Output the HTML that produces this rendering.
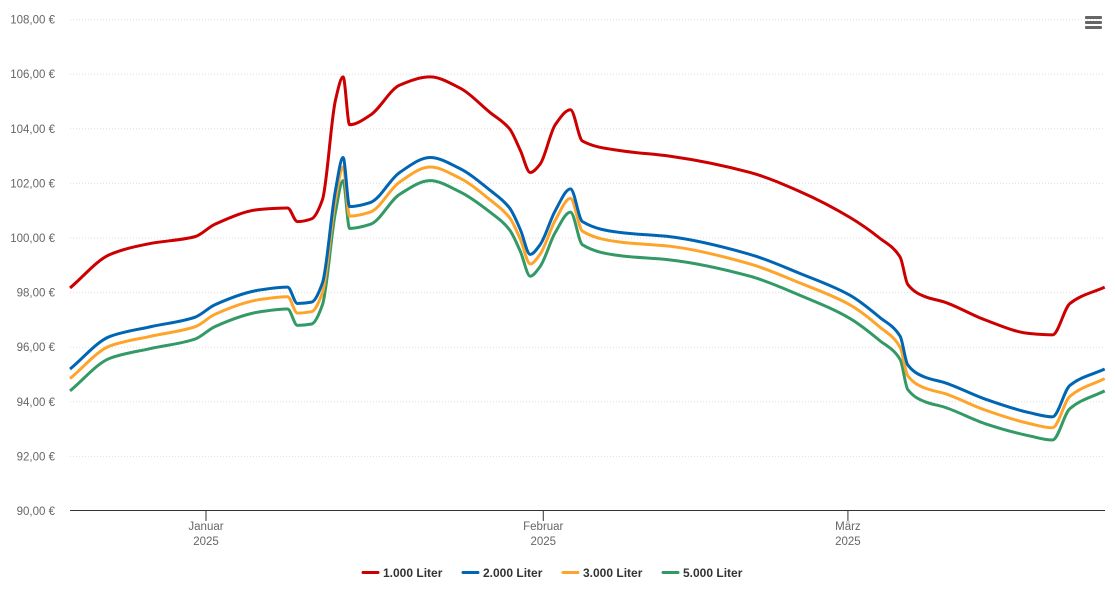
<!DOCTYPE html>
<html><head><meta charset="utf-8"><style>
html,body{margin:0;padding:0;background:#fff;width:1115px;height:608px;overflow:hidden}
svg{font-family:"Liberation Sans",sans-serif}
</style></head><body>
<svg id="chart" width="1115" height="608" xmlns="http://www.w3.org/2000/svg">
<g id="grid"></g>
<g id="yaxis"></g>
<g id="xaxis"></g>
<g id="series"></g>
<g id="legend"></g>
<g>
<rect x="1085" y="16" width="17" height="3" rx="1" fill="#666"/>
<rect x="1085" y="21" width="17" height="3" rx="1" fill="#666"/>
<rect x="1085" y="26" width="17" height="3" rx="1" fill="#666"/>
</g>
</svg>
<script>
const days=[-12.5,-8.8,-5.1,-1,0.8,5,7.5,8.4,9.7,10.7,11.9,12.6,13.2,15.1,17.8,20.6,23.3,26.1,27.9,28.9,29.8,30.7,32.1,33.5,34.6,38.1,42.6,50,54.6,59.2,61.9,63.8,64.5,66.1,67.9,71.6,75.7,77.8,79.4,82.6];
const red=[98.17,99.4,99.8,100.05,100.5,101.05,101.1,100.6,100.7,101.4,105.05,105.9,104.15,104.5,105.6,105.9,105.5,104.6,104.0,103.2,102.4,102.7,104.15,104.7,103.55,103.2,103.0,102.4,101.7,100.75,100.0,99.3,98.3,97.85,97.65,97.0,96.5,96.45,97.6,98.2];
const blue=[95.2,96.4,96.75,97.1,97.55,98.1,98.2,97.6,97.65,98.35,101.75,102.95,101.15,101.3,102.4,102.95,102.55,101.75,101.1,100.3,99.4,99.75,101.0,101.8,100.6,100.2,100.05,99.4,98.7,97.9,97.1,96.4,95.35,94.9,94.7,94.1,93.6,93.45,94.6,95.2];
const orange=[94.85,96.05,96.4,96.75,97.2,97.75,97.85,97.25,97.3,98.0,101.4,102.6,100.8,100.95,102.05,102.6,102.2,101.4,100.75,99.95,99.05,99.4,100.65,101.45,100.25,99.85,99.7,99.05,98.35,97.55,96.75,96.0,94.95,94.5,94.3,93.7,93.2,93.05,94.2,94.85];
const green=[94.4,95.6,95.95,96.3,96.75,97.3,97.4,96.8,96.85,97.55,100.95,102.1,100.35,100.5,101.6,102.1,101.7,100.95,100.3,99.5,98.6,98.95,100.2,100.95,99.75,99.35,99.2,98.6,97.9,97.05,96.25,95.55,94.45,94.0,93.8,93.2,92.75,92.6,93.75,94.4];
const seriesNames=["1.000 Liter","2.000 Liter","3.000 Liter","5.000 Liter"];
const yTicks=[90,92,94,96,98,100,102,104,106,108];
const xTickDays=[0,31,59];
const xTickLabels=["Januar","Februar","März"];

const NS="http://www.w3.org/2000/svg";
const X0=70,X1=1105;
const x=d=>206+d*10.88;
const y=v=>511-(v-90)*27.3;
function el(tag,attrs,parent,text){const e=document.createElementNS(NS,tag);for(const k in attrs)e.setAttribute(k,attrs[k]);if(text!==undefined)e.textContent=text;parent.appendChild(e);return e;}
const grid=document.getElementById('grid'),ya=document.getElementById('yaxis'),xa=document.getElementById('xaxis');
yTicks.forEach(t=>{
 if(t>90){const g=el('line',{x1:X0,x2:X1,y1:y(t),y2:y(t),stroke:'#ddd','stroke-dasharray':'1,2'},grid);
 
 }
 const l=el('text',{x:55,y:y(t)+4,'text-anchor':'end','font-size':'11.5',fill:'#666'},ya,t.toFixed(2).replace('.',',')+' €');
 
 
});
const ax=el('line',{x1:X0,x2:X1,y1:510.5,y2:510.5,stroke:'#333','stroke-width':1},xa);


xTickDays.forEach((d,i)=>{
 const tk=el('line',{x1:x(d),x2:x(d),y1:511,y2:521,stroke:'#333'},xa);
 
 
 const t=el('text',{x:x(d),y:530,'text-anchor':'middle','font-size':'11.5',fill:'#666'},xa);
 
 
 el('tspan',{x:x(d),dy:0},t,xTickLabels[i]);
 el('tspan',{x:x(d),dy:15},t,'2025');
});
function monotonePath(xs,ys){
 const n=xs.length,dx=[],m=[],s=[];
 for(let i=0;i<n-1;i++){dx[i]=xs[i+1]-xs[i];s[i]=(ys[i+1]-ys[i])/dx[i];}
 m[0]=s[0];m[n-1]=s[n-2];
 for(let i=1;i<n-1;i++){m[i]=(s[i-1]*s[i]<=0)?0:(3*(dx[i-1]+dx[i]))/((2*dx[i]+dx[i-1])/s[i-1]+(dx[i]+2*dx[i-1])/s[i]);}
 let p='M'+xs[0]+','+ys[0];
 for(let i=0;i<n-1;i++){const h=dx[i]/3;p+='C'+(xs[i]+h)+','+(ys[i]+m[i]*h)+' '+(xs[i+1]-h)+','+(ys[i+1]-m[i+1]*h)+' '+xs[i+1]+','+ys[i+1];}
 return p;
}
const colors=['#cc0000','#0066b3','#ffa42b','#339966'];
const data=[red,blue,orange,green];
const sg=document.getElementById('series');
for(let k=3;k>=0;k--){
 const p=el('path',{d:monotonePath(days.map(x),data[k].map(y)),fill:'none',stroke:colors[k],'stroke-width':3,'stroke-linejoin':'round'},sg);
 
 
}
const lg=document.getElementById('legend');
const lx=[363,463,563,663];
seriesNames.forEach((n,i)=>{
 const g=el('g',{},lg);
 
 
 el('line',{x1:lx[i],x2:lx[i]+15,y1:572.5,y2:572.5,stroke:colors[i],'stroke-width':3,'stroke-linecap':'round'},g);
 el('text',{x:lx[i]+20,y:577,'font-size':'12','font-weight':'bold',fill:'#333'},g,n);
});
</script>
</body></html>
